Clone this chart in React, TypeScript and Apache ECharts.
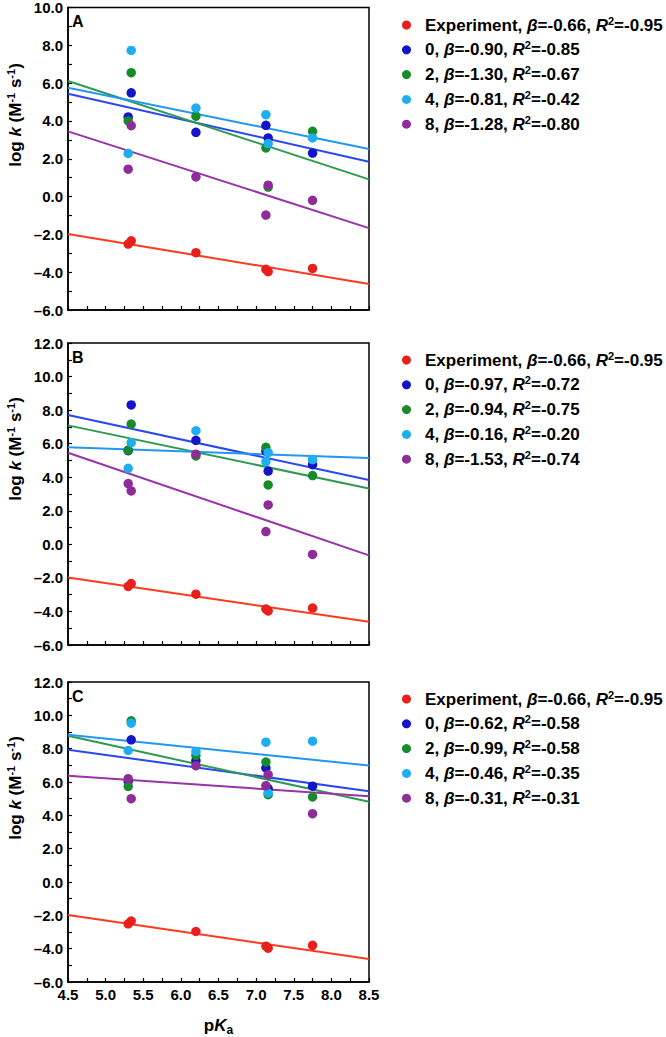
import React, { useEffect, useRef } from "react";
import * as echarts from "echarts";

// ---------- data ----------
const PKA = [5.3, 5.34, 6.2, 7.13, 7.16, 7.75];
const EXP = [-2.51, -2.34, -2.97, -3.85, -3.97, -3.8];
const EXP_LINE = [-1.98, -4.62];

const A_BLUE = [4.21, 5.49, 3.4, 3.77, 3.1, 2.3];
const A_GREEN = [4.0, 6.55, 4.25, 2.57, 0.5, 3.45];
const A_CYAN = [2.28, 7.73, 4.68, 4.33, 2.8, 3.1];
const A_PURPLE = [1.45, 3.75, 1.04, -0.98, 0.6, -0.2];
const A_LINES = { blue: [5.44, 1.84], green: [6.11, 0.91], cyan: [5.76, 2.52], purple: [3.45, -1.67] };
const A_STATS = [["Experiment", "-0.66", "-0.95"], ["0", "-0.90", "-0.85"], ["2", "-1.30", "-0.67"], ["4", "-0.81", "-0.42"], ["8", "-1.28", "-0.80"]];

const B_BLUE = [5.58, 8.31, 6.2, 5.55, 4.37, 4.75];
const B_GREEN = [5.62, 7.17, 5.27, 5.78, 3.54, 4.1];
const B_CYAN = [4.53, 6.06, 6.77, 4.93, 5.46, 5.05];
const B_PURPLE = [3.62, 3.18, 5.37, 0.76, 2.35, -0.6];
const B_LINES = { blue: [7.71, 3.83], green: [7.09, 3.33], cyan: [5.78, 5.14], purple: [5.46, -0.66] };
const B_STATS = [["Experiment", "-0.66", "-0.95"], ["0", "-0.97", "-0.72"], ["2", "-0.94", "-0.75"], ["4", "-0.16", "-0.20"], ["8", "-1.53", "-0.74"]];

const C_BLUE = [6.04, 8.53, 7.28, 6.84, 5.6, 5.75];
const C_GREEN = [5.74, 9.67, 7.6, 7.2, 5.24, 5.1];
const C_CYAN = [7.89, 9.53, 7.83, 8.39, 5.34, 8.45];
const C_PURPLE = [6.2, 5.0, 6.98, 5.78, 6.44, 4.1];
const C_LINES = { blue: [7.93, 5.45], green: [8.77, 4.81], cyan: [8.83, 6.99], purple: [6.38, 5.14] };
const C_STATS = [["Experiment", "-0.66", "-0.95"], ["0", "-0.62", "-0.58"], ["2", "-0.99", "-0.58"], ["4", "-0.46", "-0.35"], ["8", "-0.31", "-0.31"]];

const LINE_X = [4.5, 8.5];
const PANEL_LETTERS = ["A", "B", "C"];
const Y_MAX = [10, 12, 12];
const Y_TITLE = "log {ik|k} (M{sup|-1} s{sup|-1})";

// ---------- styles ----------
const FONT = "'Liberation Sans', Arial, Helvetica, sans-serif";
const PT = { red: "#E8201C", blue: "#1414C8", green: "#178A2A", cyan: "#1EAEEE", purple: "#8E2C98" };
const LN = { red: "#FF3A1E", blue: "#2A48F0", green: "#2E9A52", cyan: "#2396F2", purple: "#9833A8" };
const GRIDS = [
  { left: 68, top: 7, width: 301, height: 303 },
  { left: 68, top: 343, width: 301, height: 302 },
  { left: 68, top: 682, width: 301, height: 301 },
];
const LEGEND_TOP = [10, 345, 684];
const Y_TITLE_CENTER = [115, 449, 788];

export default function App() {
  const ref = useRef<HTMLDivElement>(null);
  useEffect(() => {
    if (!ref.current) return;
    const chart = echarts.init(ref.current, null, { renderer: "svg" });

    const panels = [
      { pts: { blue: A_BLUE, green: A_GREEN, cyan: A_CYAN, purple: A_PURPLE }, lines: A_LINES, stats: A_STATS },
      { pts: { blue: B_BLUE, green: B_GREEN, cyan: B_CYAN, purple: B_PURPLE }, lines: B_LINES, stats: B_STATS },
      { pts: { blue: C_BLUE, green: C_GREEN, cyan: C_CYAN, purple: C_PURPLE }, lines: C_LINES, stats: C_STATS },
    ];
    const keys = ["red", "blue", "green", "cyan", "purple"];

    const bold = { fontFamily: FONT, fontWeight: "bold" as const, color: "#000" };
    const series: any[] = [];
    const legends: any[] = [];
    const xAxes: any[] = [];
    const yAxes: any[] = [];
    const labelMap: Record<string, string> = {};

    panels.forEach((p, pi) => {
      const names: string[] = [];
      keys.forEach((k, ki) => {
        const vals = k === "red" ? EXP : (p.pts as any)[k];
        const line = k === "red" ? EXP_LINE : (p.lines as any)[k];
        const name = `${PANEL_LETTERS[pi]}-${k}`;
        const st = p.stats[ki];
        labelMap[name] = `{g| }{n|${st[0]}, }{i|β}{n|=${st[1]}, }{i|R}{sup|2}{n|=${st[2]}}`;
        names.push(name);
        series.push({
          type: "line",
          name: name + "-fit",
          xAxisIndex: pi,
          yAxisIndex: pi,
          data: LINE_X.map((x, i) => [x, line[i]]),
          showSymbol: false,
          symbol: "none",
          lineStyle: { color: LN[k as keyof typeof LN], width: 2 },
          z: 2,
        });
        series.push({
          type: "scatter",
          name,
          xAxisIndex: pi,
          yAxisIndex: pi,
          data: PKA.map((x, i) => [x, vals[i]]),
          symbol: "circle",
          symbolSize: 9.5,
          itemStyle: { color: PT[k as keyof typeof PT], opacity: 1 },
          z: 3,
        });
      });
      legends.push({
        orient: "vertical",
        left: 397,
        top: LEGEND_TOP[pi],
        itemWidth: 9,
        itemHeight: 9,
        itemGap: 6.3,
        icon: "circle",
        selectedMode: false,
        data: names,
        formatter: (n: string) => labelMap[n],
        textStyle: {
          ...bold,
          fontSize: 17,
          rich: {
            g: { width: 9 },
            n: { ...bold, fontSize: 17, lineHeight: 20 },
            i: { ...bold, fontSize: 17, fontStyle: "italic", lineHeight: 20 },
            sup: { ...bold, fontSize: 11, verticalAlign: "top", lineHeight: 12 },
          },
        },
      });
      const tickStyle = { color: "#000", width: 1.2 };
      xAxes.push({
        gridIndex: pi,
        type: "value",
        min: 4.5,
        max: 8.5,
        interval: 0.5,
        axisLine: { show: true, onZero: false, lineStyle: { color: "#000", width: 1.5 } },
        axisTick: { show: true, inside: true, length: 4, lineStyle: tickStyle },
        minorTick: { show: true, splitNumber: 2, length: 4, lineStyle: tickStyle },
        splitLine: { show: false },
        axisLabel: {
          show: pi === 2,
          margin: 5,
          ...bold,
          fontSize: 15,
          formatter: (v: number) => v.toFixed(1),
        },
        name: pi === 2 ? "p{ik|K}{sub|a}" : "",
        nameLocation: "middle",
        nameGap: 32,
        nameTextStyle: {
          ...bold,
          fontSize: 17,
          rich: {
            ik: { ...bold, fontSize: 17, fontStyle: "italic", lineHeight: 22 },
            sub: { ...bold, fontSize: 12, verticalAlign: "bottom", lineHeight: 12 },
          },
        },
      });
      yAxes.push({
        gridIndex: pi,
        type: "value",
        min: -6,
        max: Y_MAX[pi],
        interval: 2,
        axisLine: { show: true, onZero: false, lineStyle: { color: "#000", width: 1.5 } },
        axisTick: { show: true, inside: true, length: 4, lineStyle: tickStyle },
        minorTick: { show: true, splitNumber: 2, length: 4, lineStyle: tickStyle },
        splitLine: { show: false },
        axisLabel: {
          margin: 5,
          ...bold,
          fontSize: 15,
          formatter: (v: number) => (v < 0 ? "–" : "") + Math.abs(v).toFixed(1),
        },
      });
    });

    const titleRich = {
      ik: { ...bold, fontSize: 17, fontStyle: "italic", lineHeight: 20 },
      sup: { ...bold, fontSize: 11, verticalAlign: "top", lineHeight: 12 },
    };

    chart.setOption({
      animation: false,
      backgroundColor: "#fff",
      grid: GRIDS.map((g) => ({ ...g, show: true, borderColor: "#000", borderWidth: 1.5, backgroundColor: "transparent" })),
      xAxis: xAxes,
      yAxis: yAxes,
      legend: legends,
      series,
      graphic: [
        ...PANEL_LETTERS.map((l, i) => ({
          type: "text",
          left: GRIDS[i].left + 4,
          top: GRIDS[i].top + 6,
          style: { text: l, font: `bold 16px ${FONT}`, fill: "#000" },
          z: 10,
        })),
        ...Y_TITLE_CENTER.map((cy) => ({
          type: "text",
          x: 15,
          y: cy,
          rotation: Math.PI / 2,
          style: {
            text: Y_TITLE,
            fontFamily: FONT,
            fontWeight: "bold",
            fontSize: 17,
            fill: "#000",
            align: "center",
            verticalAlign: "middle",
            rich: titleRich,
          },
          z: 10,
        })),
      ],
    });
    return () => chart.dispose();
  }, []);
  return <div ref={ref} style={{ position: "absolute", left: 0, top: 0, width: 666, height: 1037 }} />;
}
